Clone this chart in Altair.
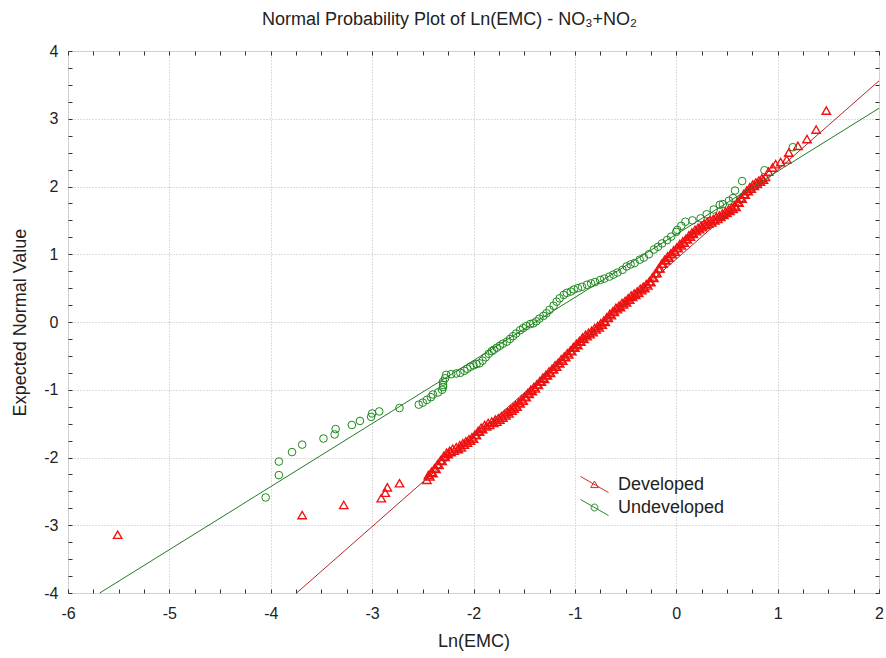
import altair as alt
import pandas as pd

title_text = "Normal Probability Plot of Ln(EMC) - NO₃+NO₂"
x_title = "Ln(EMC)"
y_title = "Expected Normal Value"
series_names = ["Developed", "Undeveloped"]

# Developed (triangles): tails plus the dense band
dev_x = [-5.51, -3.69, -3.28, -2.91, -2.87, -2.85, -2.73,
         -2.46, -2.43, -2.40, -2.37, -2.34, -2.31, -2.28, -2.25, -2.22, -2.19, -2.15, -2.12, -2.09, -2.06, -2.03, -2.00,
         -1.97, -1.94, -1.91, -1.87, -1.84, -1.80, -1.77, -1.74, -1.71, -1.68, -1.65, -1.62, -1.60, -1.57, -1.54, -1.51,
         -1.48, -1.45, -1.42, -1.39, -1.36, -1.33, -1.30, -1.27, -1.24, -1.21, -1.18, -1.15, -1.12, -1.09, -1.06, -1.03, -1.00,
         -0.97, -0.94, -0.91, -0.88, -0.85, -0.82, -0.79, -0.76, -0.73, -0.70, -0.67, -0.64, -0.61, -0.58, -0.55, -0.52,
         -0.49, -0.46, -0.43, -0.40, -0.37, -0.34, -0.31, -0.28, -0.25, -0.22, -0.19, -0.16, -0.13, -0.10, -0.07, -0.04, -0.01,
         0.02, 0.05, 0.08, 0.11, 0.14, 0.17, 0.20, 0.23, 0.26, 0.29, 0.32, 0.35, 0.38, 0.41, 0.44, 0.47, 0.50, 0.53, 0.56,
         0.59, 0.62, 0.65, 0.68, 0.71, 0.74, 0.77, 0.80, 0.83, 0.86, 0.88,
         0.91, 0.95, 0.98, 1.03, 1.09, 1.11, 1.20, 1.29, 1.38, 1.48,
         -2.445, -2.415, -2.385, -2.355, -2.325, -2.295, -2.265, -2.235, -2.205, -2.17, -2.135, -2.105, -2.075, -2.045,
         -2.015, -1.985, -1.955, -1.925, -1.89, -1.855, -1.82, -1.785, -1.755, -1.725, -1.695, -1.665, -1.635, -1.61,
         -1.585, -1.555, -1.525, -1.495, -1.465, -1.435, -1.405, -1.375, -1.345, -1.315, -1.285, -1.255, -1.225, -1.195,
         -1.165, -1.135, -1.105, -1.075, -1.045, -1.015, -0.985, -0.955, -0.925, -0.895, -0.865, -0.835, -0.805, -0.775,
         -0.745, -0.715, -0.685, -0.655, -0.625, -0.595, -0.565, -0.535, -0.505, -0.475, -0.445, -0.415, -0.385, -0.355,
         -0.325, -0.295, -0.265, -0.235, -0.205, -0.175, -0.145, -0.115, -0.085, -0.055, -0.025, 0.005, 0.035, 0.065,
         0.095, 0.125, 0.155, 0.185, 0.215, 0.245, 0.275, 0.305, 0.335, 0.365, 0.395, 0.425, 0.455, 0.485, 0.515, 0.545,
         0.575, 0.605, 0.635, 0.665, 0.695, 0.725, 0.755, 0.785, 0.815, 0.845]
dev_y = [-3.14, -2.85, -2.70, -2.60, -2.52, -2.44, -2.38,
         -2.33, -2.28, -2.23, -2.17, -2.11, -2.05, -1.99, -1.95, -1.92, -1.90, -1.875, -1.85, -1.81, -1.78, -1.75, -1.72,
         -1.67, -1.62, -1.58, -1.54, -1.52, -1.49, -1.47, -1.44, -1.41, -1.38, -1.35, -1.31, -1.28, -1.25, -1.20, -1.16,
         -1.11, -1.06, -1.02, -0.98, -0.93, -0.88, -0.84, -0.79, -0.75, -0.70, -0.66, -0.61, -0.57, -0.52, -0.48, -0.43, -0.38,
         -0.34, -0.29, -0.25, -0.21, -0.18, -0.15, -0.11, -0.08, -0.04, 0.00, 0.06, 0.10, 0.15, 0.19, 0.22, 0.26,
         0.29, 0.33, 0.37, 0.40, 0.43, 0.47, 0.50, 0.54, 0.59, 0.65, 0.72, 0.79, 0.86, 0.91, 0.95, 1.00, 1.04,
         1.09, 1.13, 1.17, 1.22, 1.26, 1.30, 1.34, 1.37, 1.40, 1.43, 1.45, 1.47, 1.50, 1.52, 1.55, 1.58, 1.61, 1.64, 1.67,
         1.70, 1.76, 1.82, 1.88, 1.93, 1.97, 2.01, 2.04, 2.07, 2.10, 2.14,
         2.22, 2.28, 2.33, 2.36, 2.40, 2.50, 2.60, 2.70, 2.84, 3.12,
         -2.26, -2.21, -2.16, -2.10, -2.04, -1.98, -1.93, -1.90, -1.87, -1.85, -1.82, -1.79, -1.76, -1.73,
         -1.70, -1.66, -1.61, -1.56, -1.52, -1.49, -1.47, -1.44, -1.42, -1.39, -1.36, -1.33, -1.29, -1.26,
         -1.23, -1.19, -1.14, -1.10, -1.05, -1.00, -0.96, -0.92, -0.87, -0.82, -0.78, -0.73, -0.69, -0.64,
         -0.60, -0.55, -0.51, -0.46, -0.42, -0.37, -0.32, -0.28, -0.23, -0.19, -0.16, -0.13, -0.09, -0.06,
         -0.02, 0.02, 0.07, 0.12, 0.16, 0.21, 0.24, 0.28, 0.31, 0.35, 0.39, 0.42, 0.45, 0.49,
         0.52, 0.56, 0.60, 0.66, 0.72, 0.79, 0.86, 0.92, 0.97, 1.01, 1.06, 1.10, 1.15, 1.19,
         1.23, 1.28, 1.32, 1.36, 1.39, 1.42, 1.45, 1.48, 1.50, 1.52, 1.55, 1.57, 1.60, 1.63, 1.66, 1.69,
         1.72, 1.77, 1.83, 1.89, 1.94, 1.99, 2.03, 2.06, 2.09, 2.12]

# Undeveloped (circles)
undev_x = [-4.05, -3.92, -3.92, -3.79, -3.69, -3.48, -3.37, -3.36, -3.20, -3.12, -3.01, -3.00, -2.93, -2.73, -2.54,
           -2.50, -2.46, -2.42, -2.40, -2.35, -2.31, -2.30, -2.30, -2.30, -2.28, -2.27,
           -2.22, -2.17, -2.13, -2.09, -2.06, -2.03, -2.00, -1.97, -1.94, -1.91, -1.88, -1.85, -1.82, -1.80, -1.77,
           -1.74, -1.71, -1.67, -1.64, -1.61, -1.58, -1.54, -1.51, -1.48, -1.44, -1.41, -1.38, -1.35, -1.31, -1.28,
           -1.25, -1.21, -1.18, -1.15, -1.11, -1.08, -1.04, -1.01,
           -0.97, -0.93, -0.88, -0.84, -0.80, -0.75, -0.71, -0.66, -0.62, -0.58, -0.53, -0.49, -0.45, -0.41, -0.36,
           -0.32, -0.27, -0.22, -0.18, -0.14, -0.09, -0.05, 0.00, 0.01, 0.05, 0.09, 0.16, 0.24, 0.30, 0.37, 0.43,
           0.46, 0.52, 0.56, 0.58, 0.65, 0.87, 1.15]
undev_y = [-2.59, -2.26, -2.06, -1.92, -1.81, -1.72, -1.66, -1.58, -1.52, -1.46, -1.40, -1.35, -1.32, -1.27, -1.22,
           -1.19, -1.15, -1.11, -1.07, -1.04, -1.00, -0.96, -0.93, -0.88, -0.83, -0.78,
           -0.77, -0.76, -0.75, -0.72, -0.69, -0.66, -0.64, -0.62, -0.61, -0.57, -0.52, -0.47, -0.43, -0.41, -0.38,
           -0.35, -0.32, -0.29, -0.25, -0.21, -0.17, -0.12, -0.09, -0.06, -0.03, -0.02, 0.01, 0.05, 0.09, 0.13,
           0.18, 0.24, 0.30, 0.35, 0.40, 0.43, 0.45, 0.48,
           0.50, 0.52, 0.55, 0.57, 0.59, 0.62, 0.64, 0.67, 0.70, 0.73, 0.77, 0.82, 0.85, 0.87, 0.92,
           0.95, 1.00, 1.07, 1.11, 1.16, 1.21, 1.26, 1.33, 1.36, 1.42, 1.48, 1.50, 1.53, 1.59, 1.66, 1.73,
           1.74, 1.79, 1.83, 1.94, 2.08, 2.24, 2.58]

# Fitted reference lines (end points)
dev_fit_x = [-3.745, 2.0]
dev_fit_y = [-4.0, 3.56]
undev_fit_x = [-5.687, 2.0]
undev_fit_y = [-4.0, 3.155]

x_major = [-6, -5, -4, -3, -2, -1, 0, 1, 2]
y_major = [-4, -3, -2, -1, 0, 1, 2, 3, 4]
x_minor = [v / 4 for v in range(-24, 9)]
y_minor = [v / 4 for v in range(-16, 17)]

dev_df = pd.DataFrame({"x": dev_x, "y": dev_y})
undev_df = pd.DataFrame({"x": undev_x, "y": undev_y})
dev_fit_df = pd.DataFrame({"x": dev_fit_x, "y": dev_fit_y})
undev_fit_df = pd.DataFrame({"x": undev_fit_x, "y": undev_fit_y})
legend_df = pd.DataFrame({"series": series_names})

FONT = "Liberation Sans"
TXT = "#222222"
RED = "#f21010"
GREEN = "#1c8a1c"
RED_LINE = "#b02828"
GREEN_LINE = "#237a23"
W, H = 811, 542

xs = alt.Scale(domain=[-6, 2], nice=False, zero=False)
ys = alt.Scale(domain=[-4, 4], nice=False, zero=False)

grid_kw = dict(grid=True, gridColor="#b8b8b8", gridDash=[1, 2], gridWidth=1)

ax_x_main = alt.Axis(orient="bottom", values=x_major, labelExpr="'' + datum.value",
                     labelFont=FONT, labelFontSize=16, labelColor=TXT, labelPadding=12,
                     labelFlush=False, labelOverlap=False, ticks=False, tickSize=0, domain=False,
                     title=x_title, titleFont=FONT, titleFontSize=18, titleFontWeight="normal",
                     titleColor=TXT, titlePadding=11, **grid_kw)
ax_y_main = alt.Axis(orient="left", values=y_major, labelExpr="'' + datum.value",
                     labelFont=FONT, labelFontSize=16, labelColor=TXT, labelPadding=10,
                     labelFlush=False, labelOverlap=False, ticks=False, tickSize=0, domain=False,
                     title=y_title, titleFont=FONT, titleFontSize=18, titleFontWeight="normal",
                     titleColor=TXT, titlePadding=14, **grid_kw)


def tick_axis(orient, offset, vals):
    return alt.Axis(orient=orient, offset=offset, values=vals, labels=False, grid=False,
                    domain=False, ticks=True, tickSize=4, tickColor="#333333", tickWidth=1,
                    title=None)


green_pts = alt.Chart(undev_df).mark_point(shape="circle", filled=False, color=GREEN,
                                            size=58, strokeWidth=1, opacity=1).encode(
    x=alt.X("x:Q", scale=xs, axis=tick_axis("top", -H, x_minor)),
    y=alt.Y("y:Q", scale=ys, axis=tick_axis("right", -W, y_minor)),
)

red_pts = alt.Chart(dev_df).mark_point(shape="triangle-up", filled=False, color=RED,
                                        size=72, strokeWidth=1.35, opacity=1).encode(
    x=alt.X("x:Q", scale=xs, axis=ax_x_main),
    y=alt.Y("y:Q", scale=ys, axis=ax_y_main),
)

dev_line = alt.Chart(dev_fit_df).mark_line(color=RED_LINE, strokeWidth=1, clip=True).encode(
    x=alt.X("x:Q", scale=xs, axis=tick_axis("bottom", -H, x_minor)),
    y=alt.Y("y:Q", scale=ys, axis=tick_axis("left", -W, y_minor)),
)

undev_line = alt.Chart(undev_fit_df).mark_line(color=GREEN_LINE, strokeWidth=1, clip=True).encode(
    x=alt.X("x:Q", scale=xs, axis=None),
    y=alt.Y("y:Q", scale=ys, axis=None),
)

tri_path = "M-1.22,-0.7L1.22,0.7M0,-0.3L-0.33,0.27L0.33,0.27Z"
circ_path = "M-1.22,-0.7L1.22,0.7M0.3,0A0.3,0.3 0 1,1 -0.3,0A0.3,0.3 0 1,1 0.3,0Z"

leg_def = alt.Legend(title=None, orient="none", legendX=514.5, legendY=421.5, symbolSize=529,
                     symbolStrokeWidth=1, labelFont=FONT, labelFontSize=18, labelColor=TXT,
                     labelOffset=11.5, rowPadding=0, padding=0, symbolOpacity=1)

legend_layer = alt.Chart(legend_df).transform_filter("false").mark_point(filled=False, strokeWidth=1).encode(
    color=alt.Color("series:N", scale=alt.Scale(domain=series_names, range=["#d42a2a", "#2a8a2a"]),
                    legend=leg_def),
    shape=alt.Shape("series:N", scale=alt.Scale(domain=series_names, range=[tri_path, circ_path]),
                    legend=leg_def),
)

chart = alt.layer(green_pts, red_pts, dev_line, undev_line, legend_layer).resolve_axis(
    x="independent", y="independent"
).properties(
    width=W, height=H,
    title=alt.TitleParams(text=title_text, font=FONT, fontSize=18, fontWeight="normal", color=TXT,
                          anchor="middle", dx=-24, offset=14, baseline="top"),
    padding={"left": 68, "top": 51, "right": 7, "bottom": 65},
    autosize=alt.AutoSizeParams(type="none"),
    background="white",
).configure_view(stroke="#555555", strokeWidth=2).configure(font=FONT)

chart.save("out.html", embed_options={"renderer": "svg", "actions": False})
